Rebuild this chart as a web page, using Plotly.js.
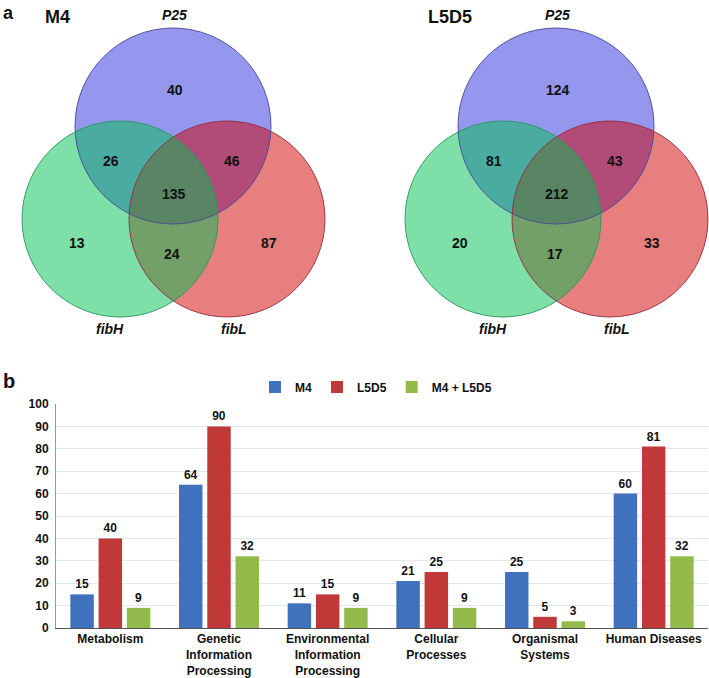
<!DOCTYPE html>
<html>
<head>
<meta charset="utf-8">
<script src="https://cdn.plot.ly/plotly-3.0.1.min.js"></script>
<style>html,body{margin:0;padding:0;background:#fff}#chart{width:709px;height:678px}</style>
</head>
<body>
<div id="chart"></div>
<script>
// ---- Venn data (panel a) ----
const vennSets = ['P25', 'fibH', 'fibL'];
const vennPanels = ['M4', 'L5D5'];
// region order: P25 only, P25∩fibH, P25∩fibL, all three, fibH only, fibH∩fibL, fibL only
const m4Counts = [40, 26, 46, 135, 13, 24, 87];
const l5d5Counts = [124, 81, 43, 212, 20, 17, 33];

// ---- Bar data (panel b) ----
const categories = ['Metabolism', 'Genetic<br>Information<br>Processing', 'Environmental<br>Information<br>Processing', 'Cellular<br>Processes', 'Organismal<br>Systems', 'Human Diseases'];
const seriesNames = ['M4', 'L5D5', 'M4 + L5D5'];
const m4Values = [15, 64, 11, 21, 25, 60];
const l5d5Values = [40, 90, 15, 25, 5, 81];
const bothValues = [9, 32, 9, 9, 3, 32];

// ---- layout helpers (pixel geometry) ----
const W = 709, H = 678;
const px = x => x / W;
const py = y => 1 - y / H;
const R = 98;
const origins = [[173, 126], [556, 126]];
const circleOffsets = [[0, 0], [54, 93], [-53, 93]]; // drawn order: P25, fibL, fibH
const circleFill = ['rgba(43,45,221,0.5)', 'rgba(207,0,0,0.5)', 'rgba(0,191,83,0.5)'];
const circleLine = ['rgba(70,70,150,0.9)', 'rgba(150,40,60,0.9)', 'rgba(40,150,90,0.9)'];
const regionOffsets = [[2, -36], [-62, 35], [59, 35], [1, 68], [-96, 117], [-1, 128], [96, 117]];
const setLabelPos = [[1, 15], [-63, 329], [61, 329]];

const shapes = [];
const annotations = [];
const baseFont = 'Liberation Sans, Arial, sans-serif';

[m4Counts, l5d5Counts].forEach((counts, p) => {
  const [ox, oy] = origins[p];
  circleOffsets.forEach((o, i) => {
    const cx = ox + o[0], cy = oy + o[1];
    shapes.push({type: 'circle', xref: 'paper', yref: 'paper',
      x0: px(cx - R), x1: px(cx + R), y0: py(cy + R), y1: py(cy - R),
      fillcolor: circleFill[i], line: {width: 0}, layer: 'above'});
  });
  circleOffsets.forEach((o, i) => {
    const cx = ox + o[0], cy = oy + o[1];
    shapes.push({type: 'circle', xref: 'paper', yref: 'paper',
      x0: px(cx - R), x1: px(cx + R), y0: py(cy + R), y1: py(cy - R),
      fillcolor: 'rgba(0,0,0,0)', line: {width: 1, color: circleLine[i]}, layer: 'above'});
  });
  counts.forEach((c, i) => {
    annotations.push({xref: 'paper', yref: 'paper', x: px(ox + regionOffsets[i][0]), y: py(oy + regionOffsets[i][1]),
      text: String(c), showarrow: false, xanchor: 'center', yanchor: 'middle',
      font: {family: baseFont, size: 14, weight: 'bold', color: '#111'}});
  });
  vennSets.forEach((s, i) => {
    annotations.push({xref: 'paper', yref: 'paper', x: px(ox + setLabelPos[i][0]), y: py(setLabelPos[i][1]),
      text: '<b><i>' + s + '</i></b>', showarrow: false, xanchor: 'center', yanchor: 'middle',
      font: {family: baseFont, size: 14, color: '#111'}});
  });
  annotations.push({xref: 'paper', yref: 'paper', x: px(ox - 130), y: py(17),
    text: '<b>' + vennPanels[p] + '</b>', showarrow: false, xanchor: 'left', yanchor: 'middle',
    font: {family: baseFont, size: 18, color: '#111'}});
});

annotations.push({xref: 'paper', yref: 'paper', x: px(1), y: py(1), text: '<b>a</b>', showarrow: false,
  xanchor: 'left', yanchor: 'top', font: {family: baseFont, size: 18, color: '#111'}});
annotations.push({xref: 'paper', yref: 'paper', x: px(1), y: py(381), text: '<b>b</b>', showarrow: false,
  xanchor: 'left', yanchor: 'middle', font: {family: baseFont, size: 20, color: '#111'}});

const barColors = ['#3f71bd', '#c03838', '#94ba4c'];
const labelFont = {family: baseFont, size: 12, weight: 'bold', color: '#111'};
const traces = [m4Values, l5d5Values, bothValues].map((vals, i) => ({
  type: 'bar', x: categories, y: vals, name: seriesNames[i],
  marker: {color: barColors[i], line: {width: 0}},
  text: vals.map(String), textposition: 'outside', textfont: labelFont, cliponaxis: false,
  hoverinfo: 'skip'
}));

const layout = {
  width: W, height: H,
  margin: {l: 0, r: 0, t: 0, b: 0},
  paper_bgcolor: '#fff', plot_bgcolor: 'rgba(0,0,0,0)',
  font: {family: baseFont, color: '#111'},
  barmode: 'group', bargap: 0.22, bargroupgap: 0.17,
  showlegend: true,
  legend: {orientation: 'h', x: px(376), xanchor: 'center', y: py(387), yanchor: 'middle',
    font: {family: baseFont, size: 12, weight: 'bold', color: '#111'}, itemwidth: 30, traceorder: 'normal', bgcolor: 'rgba(0,0,0,0)'},
  xaxis: {domain: [px(56), px(708)], showline: true, linecolor: '#555', linewidth: 1,
    tickfont: labelFont, ticks: '', showgrid: false, fixedrange: true},
  yaxis: {domain: [py(628), py(404)], range: [0, 100], dtick: 10, showline: true, linecolor: '#999', linewidth: 1,
    gridcolor: '#dfe8ef', gridwidth: 1, zeroline: false, tickfont: labelFont, ticks: '', ticklabelstandoff: 4, fixedrange: true},
  shapes: shapes,
  annotations: annotations
};

Plotly.newPlot('chart', traces, layout, {displayModeBar: false, staticPlot: true});
</script>
</body>
</html>
